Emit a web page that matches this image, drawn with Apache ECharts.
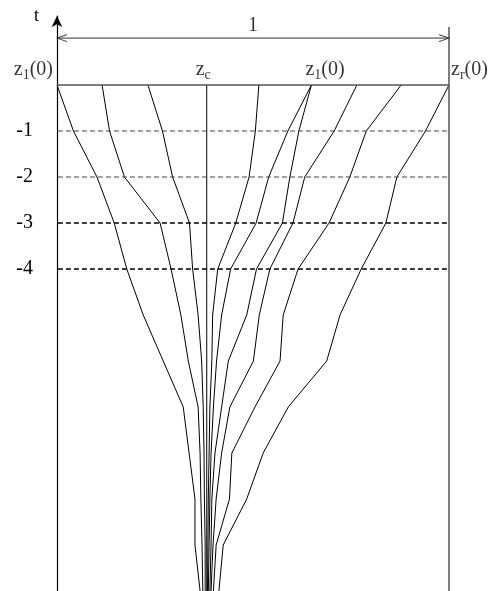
<!DOCTYPE html>
<html>
<head>
<meta charset="utf-8">
<script src="https://cdn.jsdelivr.net/npm/echarts@6/dist/echarts.min.js"></script>
<style>
html,body{margin:0;padding:0;background:#fff;}
#chart{width:498px;height:591px;}
</style>
</head>
<body>
<div id="chart"></div>
<script>
// time levels (t) at which every curve has a kink
const T = [0, -1, -2, -3, -4, -5, -6, -7, -8, -9, -10, -11];
// z positions (0..1) of each curve at the levels above
const curveA = [0.000, 0.042, 0.102, 0.146, 0.178, 0.220, 0.271, 0.322, 0.337, 0.352, 0.352, 0.365];
const curveB = [0.115, 0.134, 0.172, 0.263, 0.291, 0.316, 0.335, 0.360, 0.365, 0.367, 0.370, 0.372];
const curveC = [0.232, 0.269, 0.295, 0.338, 0.346, 0.360, 0.369, 0.373, 0.375, 0.376, 0.378, 0.378];
const curveR1 = [0.515, 0.506, 0.490, 0.456, 0.410, 0.397, 0.395, 0.390, 0.388, 0.386, 0.385, 0.384];
const curveR2 = [0.649, 0.589, 0.540, 0.508, 0.443, 0.420, 0.407, 0.399, 0.393, 0.390, 0.388, 0.386];
const curveR3 = [0.649, 0.617, 0.594, 0.575, 0.509, 0.484, 0.437, 0.420, 0.403, 0.395, 0.393, 0.390];
const curveR4 = [0.765, 0.707, 0.632, 0.602, 0.543, 0.516, 0.501, 0.441, 0.420, 0.406, 0.398, 0.393];
const curveR5 = [0.878, 0.789, 0.747, 0.694, 0.615, 0.577, 0.569, 0.505, 0.446, 0.440, 0.406, 0.399];
const curveR6 = [1.000, 0.940, 0.867, 0.839, 0.776, 0.722, 0.688, 0.590, 0.526, 0.484, 0.424, 0.413];
const curves = [curveA, curveB, curveC, curveR1, curveR2, curveR3, curveR4, curveR5, curveR6];
const zc = 0.382;                 // centre line z_c
const dashedLevels = [-1, -2, -3, -4];
const tickLabels = ['-1', '-2', '-3', '-4'];
const widthLabel = '1';

const FONT = 'Liberation Serif, Times New Roman, serif';
const rich = {
  m: {fontFamily: FONT, fontSize: 20, color: '#000', lineHeight: 25, verticalAlign: 'middle'},
  s: {fontFamily: FONT, fontSize: 14, color: '#000', lineHeight: 14, verticalAlign: 'bottom'}
};

const series = [];
curves.forEach(c => {
  series.push({
    type: 'line', data: T.map((t, i) => [c[i], t]), symbol: 'none', clip: false, silent: true,
    lineStyle: {color: '#000', width: 1}
  });
});
// centre line
series.push({type: 'line', data: [[zc, T[0]], [zc, T[T.length - 1]]], symbol: 'none', clip: false,
  lineStyle: {color: '#000', width: 1}});
// top boundary t = 0
series.push({type: 'line', data: [[0, 0], [1, 0]], symbol: 'none', clip: false,
  lineStyle: {color: '#555', width: 1.5}});
// right boundary z = 1
series.push({type: 'line', data: [[1, -11], [1, 1.26]], symbol: 'none', clip: false,
  lineStyle: {color: '#555', width: 1.5}});
// dashed levels
dashedLevels.forEach((t, i) => {
  series.push({type: 'line', data: [[-0.018, t], [1, t]], symbol: 'none', clip: false,
    lineStyle: {color: i < 2 ? '#444' : '#000', width: i < 2 ? 1 : 1.3, type: [5, 3]}});
});
// width dimension line with open arrowheads
series.push({
  type: 'line', clip: false, symbolKeepAspect: false,
  data: [
    {value: [0, 1.02], symbol: 'path://M10,0 L0,5 L10,10', symbolSize: [10, 7], symbolOffset: [5, 0]},
    {value: [1, 1.02], symbol: 'path://M0,0 L10,5 L0,10', symbolSize: [10, 7], symbolOffset: [-5, 0]}
  ],
  itemStyle: {color: 'rgba(0,0,0,0)', borderColor: '#333', borderWidth: 1},
  lineStyle: {color: '#333', width: 1}
});
// text labels
function lab(z, t, text, align, dx) {
  return {value: [z, t], label: {show: true, position: 'inside', formatter: text, align: align,
    verticalAlign: 'middle', offset: [dx, 0], rich: rich}};
}
series.push({
  type: 'scatter', symbolSize: 0, clip: false, silent: true,
  data: [
    lab(0, 0.33, '{m|z}{s|1}{m|(0)}', 'right', -4),
    lab(zc, 0.33, '{m|z}{s|c}', 'left', -11),
    lab(curveR2[0], 0.33, '{m|z}{s|1}{m|(0)}', 'left', -6),
    lab(1, 0.33, '{m|z}{s|r}{m|(0)}', 'left', 2),
    lab(0.5, 1.28, '{m|' + widthLabel + '}', 'center', 0)
  ]
});

const chart = echarts.init(document.getElementById('chart'), null, {renderer: 'canvas'});
chart.setOption({
  animation: false,
  backgroundColor: '#fff',
  grid: {left: 57, right: 49, top: 16, bottom: 0},
  xAxis: {type: 'value', min: 0, max: 1, show: false},
  yAxis: {
    type: 'value', min: -11, max: 1.5, interval: 1,
    name: 't', nameLocation: 'end', nameGap: 0,
    nameTextStyle: {fontFamily: FONT, fontSize: 18, color: '#000', align: 'right',
      verticalAlign: 'middle', padding: [0, 18, 0, 0]},
    axisLine: {show: true, symbol: ['none', 'arrow'], symbolSize: [8, 11],
      lineStyle: {color: '#000', width: 1.2}},
    axisTick: {show: false},
    splitLine: {show: false},
    axisLabel: {
      margin: 24, fontFamily: FONT, fontSize: 20, color: '#000',
      formatter: v => { const i = dashedLevels.indexOf(v); return i >= 0 ? tickLabels[i] : ''; }
    }
  },
  series: series
});
</script>
</body>
</html>
